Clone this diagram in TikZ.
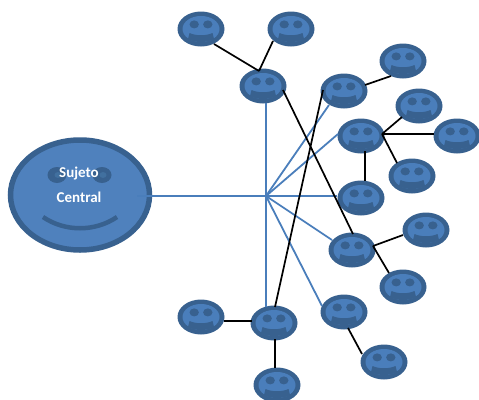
\documentclass[tikz,border=0pt]{standalone}
\usepackage{fontspec}
\setmainfont{Carlito}
\usetikzlibrary{shapes.geometric,calc}
\definecolor{rim}{HTML}{38618F}
\definecolor{body}{HTML}{4A7EBB}
\definecolor{bigbody}{HTML}{4F81BD}
\definecolor{blueline}{HTML}{4A7EBB}
\definecolor{coreblue}{HTML}{41709F}
\tikzset{
  x=1pt,y=-1pt,
  face/.style={ellipse,minimum width=47pt,minimum height=35pt,inner sep=0pt,fill=rim,
    path picture={
      \begin{scope}[shift={(path picture bounding box.center)}]
        \fill[body] (0,0) ellipse[x radius=18.5,y radius=13];
        \fill[rim] (-6.8,-4.6) ellipse[x radius=4.7,y radius=4];
        \fill[rim] (6.8,-4.6) ellipse[x radius=4.7,y radius=4];
        \fill[rim] (-11.5,4) .. controls (-5,7) and (5,7) .. (11.5,4)
          -- (13,10) .. controls (6,14) and (-6,14) .. (-13,10) -- cycle;
      \end{scope}
    }},
  bigface/.style={ellipse,minimum width=139pt,minimum height=110pt,inner sep=0pt,fill=bigbody,draw=rim,line width=5.5pt},
  bigeye/.style={ellipse,minimum width=19pt,minimum height=16pt,inner sep=0pt,fill=rim},
  eyecore/.style={ellipse,minimum width=7pt,minimum height=6pt,inner sep=0pt,fill=coreblue},
  label/.style={text=white,font=\fontsize{15}{17}\selectfont\bfseries,inner sep=0pt},
  blink/.style={blueline,line width=1.8pt},
  blk/.style={black,line width=1.7pt},
}
\newcommand{\at}[3]{([shift={(#2,#3)}]#1.center)}
\begin{document}
\begin{tikzpicture}
\useasboundingbox (0,0) rectangle (479,399);
\node[bigface] (big) at (80,195) {};
\node[bigeye] (eyeL) at (57,175) {};
\node[bigeye] (eyeR) at (102,175) {};
\node[eyecore] (coreL) at (58,175) {};
\node[eyecore] (coreR) at (103,175) {};
\coordinate (smileL) at (43,217);
\coordinate (smileR) at (117,217);
\draw[rim,line width=4.5pt] (smileL) .. controls (65,232) and (95,232) .. (smileR);
\node[label] (t1) at (79,174) {Sujeto};
\node[label] (t2) at (79,197) {Central};
\foreach \n/\x/\y in {a/201/29,b/291/29,c/263/86,d/403/61,e/344/91,f/419/106,g/361/136,h/457/136,i/412/176,j/361/198,k/426/230,l/352/250,m/403/287,n/344/312,o/384/362,p/201/317,q/274/323,r/277/385}
  \node[face] (\n) at (\x,\y) {};
\coordinate (hub) at (266,196);
% blue spokes
\draw[blink] (hub) -- \at{big}{57}{1};
\draw[blink] (hub) -- \at{c}{3}{17};
\draw[blink] (hub) -- \at{q}{-8}{-16};
\draw[blink] (hub) -- \at{e}{-15}{14};
\draw[blink] (hub) -- \at{g}{-23}{-2};
\draw[blink] (hub) -- \at{j}{-24}{-2};
\draw[blink] (hub) -- \at{l}{-20}{-10};
\draw[blink] (hub) -- \at{n}{-22}{-6};
% black links
\draw[blk] \at{a}{13}{15} -- \at{c}{-4}{-15};
\draw[blk] \at{b}{-18}{12} -- \at{c}{-4}{-15};
\draw[blk] \at{c}{20}{4} -- \at{l}{1}{-16};
\draw[blk] \at{e}{-21}{-1} -- \at{q}{1}{-16};
\draw[blk] \at{e}{21}{-6} -- \at{d}{-12}{15};
\draw[blk] \at{g}{21}{-2} -- \at{f}{-17}{11};
\draw[blk] \at{g}{21}{-2} -- \at{h}{-23}{-2};
\draw[blk] \at{g}{21}{-2} -- \at{i}{-15}{-13};
\draw[blk] \at{g}{4}{15} -- \at{j}{4}{-17};
\draw[blk] \at{l}{21}{-4} -- \at{k}{-23}{5};
\draw[blk] \at{l}{21}{-4} -- \at{m}{-14}{-14};
\draw[blk] \at{n}{4}{16} -- \at{o}{-22}{-8};
\draw[blk] \at{p}{23}{4} -- \at{q}{-22}{-2};
\draw[blk] \at{q}{1}{16} -- \at{r}{-2}{-17};
\end{tikzpicture}
\end{document}
